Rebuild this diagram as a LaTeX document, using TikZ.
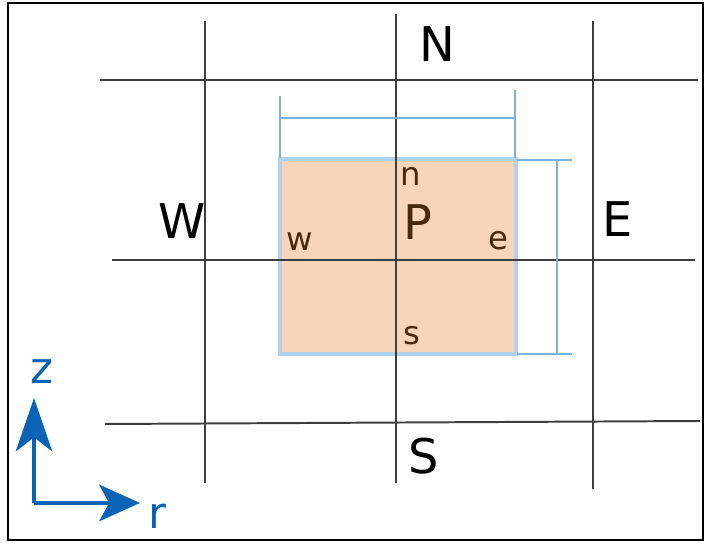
\documentclass[tikz,border=0pt]{standalone}
\usepackage{fontspec}
\setmainfont{DejaVu Sans}
\usetikzlibrary{arrows.meta}
\definecolor{cellfill}{HTML}{F8D5B8}
\definecolor{cellline}{HTML}{B0D2EC}
\definecolor{dimline}{HTML}{7DB1DE}
\definecolor{axisblue}{HTML}{0B63B5}
\definecolor{facetext}{HTML}{4A2A0E}
\begin{document}
\begin{tikzpicture}[x=0.025cm,y=-0.025cm,
        gridline/.style={line width=1.4pt,black!76},
        dim/.style={line width=0.8pt,dimline},
        nodelbl/.style={anchor=base,inner sep=0pt,font=\fontsize{34}{40}\selectfont},
        facelbl/.style={anchor=base,inner sep=0pt,text=facetext,font=\fontsize{23}{28}\selectfont},
        axislbl/.style={anchor=base,inner sep=0pt,text=axisblue,font=\fontsize{31}{36}\selectfont},
        axis/.style={line width=2.2pt,axisblue}]
    \useasboundingbox (0,0) rectangle (710,543);
    \draw[line width=1.4pt] (8,3) rectangle (703,540);

    % control volume around P
    \filldraw[fill=cellfill,draw=cellline,line width=2.2pt] (280,159) rectangle (516,354);

    % grid
    \draw[gridline] (205,21) -- (205,483);
    \draw[gridline] (396,14) -- (396,483);
    \draw[gridline] (593,21) -- (593,489);
    \draw[gridline] (100,80) -- (698,80);
    \draw[gridline] (112,260) -- (695,260);
    \draw[gridline] (105,424) -- (700,421);

    % cell width and height
    \draw[dim] (280,96) -- (280,158);
    \draw[dim] (515,90) -- (515,158);
    \draw[dim] (280,118) -- (515,118);
    \draw[dim] (517,160) -- (572,160);
    \draw[dim] (517,354) -- (572,354);
    \draw[dim] (557,160) -- (557,354);

    % neighbour points
    \node[nodelbl] (N) at (437,62) {N};
    \node[nodelbl] (S) at (424,473) {S};
    \node[nodelbl] (W) at (182,239) {W};
    \node[nodelbl] (E) at (618,237) {E};
    \node[nodelbl,text=facetext] (P) at (418,240) {P};

    % faces
    \node[facelbl] (n) at (411,186) {n};
    \node[facelbl] (s) at (412,345) {s};
    \node[facelbl] (w) at (300,251) {w};
    \node[facelbl] (e) at (498,250) {e};

    % axes
    \coordinate (origin) at (34,503);
    \coordinate (ztip) at (34,398);
    \coordinate (rtip) at (140,503);
    \draw[axis,-{Stealth[length=38pt,width=26pt,inset=10pt]}] (origin) -- (ztip);
    \draw[axis,-{Stealth[length=29pt,width=26pt,inset=7pt]}] (origin) -- (rtip);
    \node[axislbl] (z) at (42,384) {z};
    \node[axislbl] (r) at (157,528) {r};
\end{tikzpicture}
\end{document}
